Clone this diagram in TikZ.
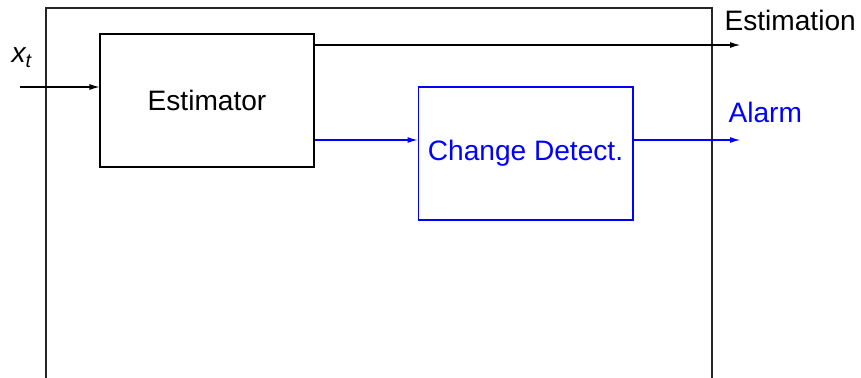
\documentclass[tikz,border=0pt]{standalone}
\usepackage{fontspec}
\setmainfont{Liberation Sans}
\usetikzlibrary{arrows.meta,positioning}
\definecolor{alarmblue}{RGB}{0,0,255}

\begin{document}
\begin{tikzpicture}[x=0.02cm, y=-0.02cm, line width=0.6pt,
  block/.style={draw, minimum width=4.28cm, minimum height=2.66cm, inner sep=0pt, font=\fontsize{16}{19}\selectfont},
  sig/.style={-{Latex[length=2mm,width=1.2mm]}},
  lbl/.style={font=\fontsize{16}{19}\selectfont, inner sep=0pt}]
\useasboundingbox (0,0) rectangle (861,378);
\clip (0,0) rectangle (861,378);

% System boundary (runs off the bottom)
\draw[black!85] (46,8) rectangle (712,420);

% Blocks
\node[block] (est) at (207,100.5) {Estimator};
\node[block, alarmblue, minimum width=4.3cm] (det) at (525.5,153.5) {Change Detect.};

% Input
\coordinate (xin) at (20,87);
\node[lbl, anchor=base west] (xlbl) at (11,63) {\itshape x\textsubscript{t}};
\draw[sig] (xin) -- (est.west |- xin);

% Outputs
\coordinate (estout) at (740,45);
\coordinate (alarmout) at (740,140);
\draw[sig] (est.east |- estout) -- (estout);
\draw[sig, alarmblue] (est.east |- alarmout) -- (det.west |- alarmout);
\draw[sig, alarmblue] (det.east |- alarmout) -- (alarmout);
\node[lbl, anchor=base west] (estlbl) at (724,31) {Estimation};
\node[lbl, anchor=base west, alarmblue] (alarmlbl) at (728,123) {Alarm};
\end{tikzpicture}
\end{document}
